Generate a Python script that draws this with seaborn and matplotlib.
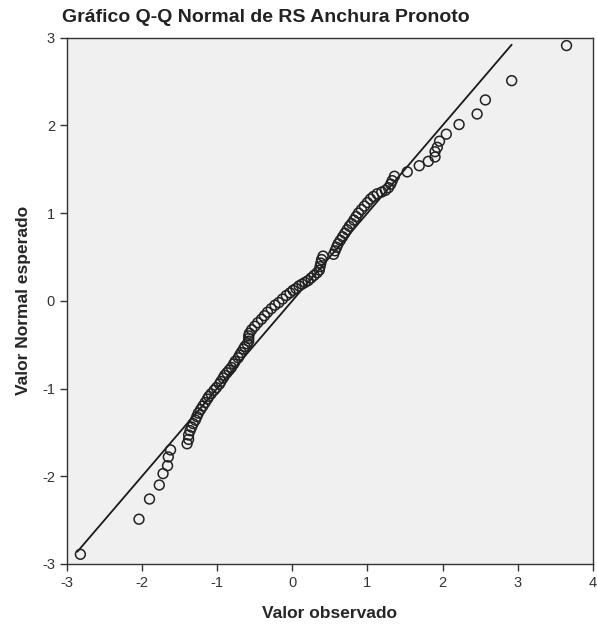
import seaborn as sns
import matplotlib.pyplot as plt
import pandas as pd

# valores (observado, esperado)
observado = [
    -2.82, -2.04, -1.90, -1.77, -1.72, -1.66, -1.65, -1.62,
    -1.40, -1.38, -1.38, -1.36, -1.34, -1.32, -1.29, -1.27, -1.25, -1.22,
    -1.19, -1.16, -1.13, -1.11, -1.08, -1.04, -1.01, -0.97, -0.95, -0.92,
    -0.90, -0.87, -0.84, -0.81, -0.78, -0.76, -0.72, -0.70, -0.68, -0.65,
    -0.63, -0.60, -0.58, -0.58, -0.58, -0.57, -0.54, -0.50, -0.46, -0.41,
    -0.37, -0.33, -0.28, -0.23, -0.18, -0.13, -0.08, -0.03, 0.01, 0.05,
    0.09, 0.13, 0.17, 0.21, 0.25, 0.29, 0.33, 0.36, 0.37, 0.38, 0.39, 0.41,
    0.55, 0.57, 0.59, 0.61, 0.64, 0.67, 0.70, 0.73, 0.76, 0.79, 0.82, 0.85,
    0.88, 0.92, 0.96, 1.00, 1.04, 1.08, 1.13, 1.19, 1.24, 1.28, 1.31, 1.33,
    1.36, 1.53, 1.69, 1.81, 1.90, 1.90, 1.93, 1.96, 2.05, 2.22, 2.46, 2.57,
    2.92, 3.65,
]
esperado = [
    -2.89, -2.49, -2.26, -2.10, -1.97, -1.88, -1.78, -1.70,
    -1.63, -1.58, -1.53, -1.48, -1.44, -1.40, -1.36, -1.32, -1.28, -1.24,
    -1.20, -1.16, -1.12, -1.09, -1.06, -1.02, -0.99, -0.95, -0.92, -0.88,
    -0.85, -0.82, -0.79, -0.76, -0.72, -0.69, -0.65, -0.62, -0.59, -0.55,
    -0.52, -0.49, -0.46, -0.43, -0.40, -0.37, -0.33, -0.29, -0.25, -0.21,
    -0.17, -0.13, -0.09, -0.05, -0.02, 0.02, 0.06, 0.09, 0.12, 0.14,
    0.17, 0.19, 0.21, 0.23, 0.26, 0.29, 0.32, 0.35, 0.39, 0.43, 0.47, 0.51,
    0.53, 0.57, 0.61, 0.65, 0.69, 0.73, 0.77, 0.81, 0.85, 0.88, 0.92, 0.96,
    1.00, 1.04, 1.08, 1.12, 1.16, 1.19, 1.22, 1.24, 1.26, 1.29, 1.33, 1.37,
    1.42, 1.47, 1.54, 1.59, 1.64, 1.70, 1.75, 1.82, 1.90, 2.01, 2.13, 2.29,
    2.51, 2.91,
]
linea = [-2.86, 2.92]

x_ticks = [-3, -2, -1, 0, 1, 2, 3, 4]
y_ticks = [-3, -2, -1, 0, 1, 2, 3]

df = pd.DataFrame({"observado": observado, "esperado": esperado})
df_linea = pd.DataFrame({"x": linea, "y": linea})

sns.set_style("ticks")
plt.rcParams['font.family'] = ['Liberation Sans', 'DejaVu Sans']
plt.rcParams['axes.unicode_minus'] = False

fig = plt.figure(figsize=(5.97, 6.28), dpi=100)
ax = fig.add_axes([0.112, 0.102, 0.881, 0.838])
ax.set_facecolor("#f0f0f0")

sns.lineplot(data=df_linea, x="x", y="y", color="#1a1a1a", linewidth=1.3, ax=ax)
sns.scatterplot(data=df, x="observado", y="esperado", ax=ax, s=50,
                facecolor="none", edgecolor="#222222", linewidth=1.1, zorder=3)

ax.set_xlim(-3, 4)
ax.set_ylim(-3, 3)
ax.set_xticks(x_ticks)
ax.set_yticks(y_ticks)
ax.tick_params(direction="out", length=5, width=1, colors="#333333", labelsize=10.5,
               labelcolor="#333333")
for s in ax.spines.values():
    s.set_color("#333333")
    s.set_linewidth(1)

ax.set_xlabel("Valor observado", fontsize=12.5, fontweight="bold", labelpad=12)
ax.set_ylabel("Valor Normal esperado", fontsize=12.5, fontweight="bold", labelpad=8)
fig.text(62 / 597, 1 - 18 / 628, "Gráfico Q-Q Normal de RS Anchura Pronoto",
         fontsize=14, fontweight="bold", ha="left", va="center", color="#222222")

fig.savefig("out.png", dpi=100)
